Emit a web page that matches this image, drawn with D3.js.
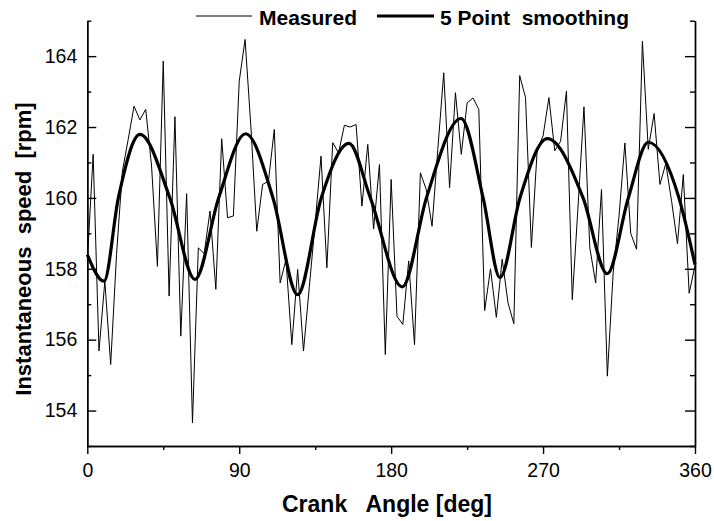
<!DOCTYPE html>
<html>
<head>
<meta charset="utf-8">
<script src="https://cdn.jsdelivr.net/npm/d3@7"></script>
<style>
  body { margin: 0; background: #fff; }
  svg text { font-family: "Liberation Sans", Arial, sans-serif; }
</style>
</head>
<body>
<svg id="chart" width="714" height="521"></svg>
<script>
// measured speed, one sample every 360/104 deg
var measured = [158.2, 161.23, 155.68, 157.65, 155.30, 158.4, 160.75, 161.65, 162.59, 162.20,
  162.50, 160.9, 158.07, 163.86, 157.23, 162.29, 156.1, 160.12, 153.65, 158.59,
  158.43, 159.63, 157.42, 161.67, 159.44, 159.49, 163.29, 164.47, 162.0, 159.06,
  160.38, 160.47, 161.93, 157.6, 158.26, 155.86, 157.98, 155.68, 157.5, 159.3,
  161.18, 158.03, 161.56, 161.27, 162.05, 162.0, 162.07, 159.77, 161.51, 159.12,
  160.94, 155.58, 160.52, 156.66, 156.43, 158.22, 155.86, 160.71, 160.24, 159.2,
  161.4, 163.53, 160.29, 162.97, 161.23, 162.68, 162.82, 162.5, 156.82, 158.0,
  156.63, 158.27, 157.04, 156.45, 163.45, 162.83, 158.6, 161.37, 161.75, 162.83,
  161.33, 161.6, 163.01, 157.13, 159.8, 162.57, 158.59, 157.6, 160.24, 154.97,
  157.9, 159.49, 161.55, 159.0, 158.55, 164.42, 161.37, 162.38, 160.38, 160.97,
  159.9, 158.71, 160.66, 157.31, 158.1];
var measuredAngle = measured.map(function(d, i) { return i * 360 / (measured.length - 1); });

// 5 point smoothing curve, read at its turning points and 160 rpm crossings
var smoothAngle = [0, 9.9, 18.4, 31.2, 48.9, 63.8, 77.8, 93.8, 110, 124.6, 138.6, 155, 167.7,
  186.6, 200.9, 221.4, 234.5, 244.5, 256.3, 272.5, 293.7, 308, 320.5, 332.3, 350.5, 360];
var smoothValue = [158.40, 157.65, 160.0, 161.79, 160.0, 157.70, 160.0, 161.81, 160.0, 157.27,
  160.0, 161.54, 160.0, 157.49, 160.0, 162.24, 160.0, 157.75, 160.0, 161.67, 160.0, 157.86,
  160.0, 161.57, 160.0, 158.12];

var xTicks = [0, 90, 180, 270, 360];
var xMinor = [45, 135, 225, 315];
var yTicks = [154, 156, 158, 160, 162, 164];
var yMinor = [153, 155, 157, 159, 161, 163, 165];

var seriesNames = ["Measured", "5 Point  smoothing"];

var svg = d3.select("#chart");

var x = d3.scaleLinear().domain([0, 360]).range([87.3, 695]);
var y = d3.scaleLinear().domain([153, 165]).range([446, 20.7]);

function styleAxis(g) {
  g.selectAll("path, line").attr("stroke", "#000").attr("stroke-width", 1.4);
  g.selectAll("text").attr("fill", "#000").style("font-size", "19.5px");
}

// bottom axis (ticks outward)
svg.append("g")
  .attr("transform", "translate(0,446)")
  .call(d3.axisBottom(x).tickValues(xTicks).tickSize(8).tickSizeOuter(0).tickPadding(9.5))
  .call(styleAxis);
svg.append("g")
  .attr("transform", "translate(0,446)")
  .call(d3.axisBottom(x).tickValues(xMinor).tickSize(4).tickSizeOuter(0).tickFormat(""))
  .call(styleAxis);

// left axis (ticks inward)
svg.append("g")
  .attr("transform", "translate(87.3,0)")
  .call(d3.axisLeft(y).tickValues(yTicks).tickSize(-9).tickSizeOuter(0).tickPadding(10))
  .call(styleAxis);
svg.append("g")
  .attr("transform", "translate(87.3,0)")
  .call(d3.axisLeft(y).tickValues(yMinor).tickSize(-4).tickSizeOuter(0).tickFormat(""))
  .call(styleAxis);

// right axis (ticks inward, no labels)
svg.append("g")
  .attr("transform", "translate(695,0)")
  .call(d3.axisRight(y).tickValues(yTicks).tickSize(-10).tickSizeOuter(0).tickFormat(""))
  .call(styleAxis);
svg.append("g")
  .attr("transform", "translate(695,0)")
  .call(d3.axisRight(y).tickValues(yMinor).tickSize(-5).tickSizeOuter(0).tickFormat(""))
  .call(styleAxis);

// measured line
svg.append("path")
  .datum(measured)
  .attr("fill", "none")
  .attr("stroke", "#000")
  .attr("stroke-width", 1)
  .attr("d", d3.line()
    .x(function(d, i) { return x(measuredAngle[i]); })
    .y(function(d) { return y(d); }));

// smoothed line
svg.append("path")
  .datum(smoothValue)
  .attr("fill", "none")
  .attr("stroke", "#000")
  .attr("stroke-width", 3.2)
  .attr("stroke-linejoin", "round")
  .attr("d", d3.line()
    .curve(d3.curveMonotoneX)
    .x(function(d, i) { return x(smoothAngle[i]); })
    .y(function(d) { return y(d); }));

// legend
var legend = [
  {name: seriesNames[0], x1: 196, x2: 252, tx: 259, w: 1},
  {name: seriesNames[1], x1: 377, x2: 434, tx: 440, w: 3.2}
];
legend.forEach(function(l) {
  svg.append("line")
    .attr("x1", l.x1).attr("x2", l.x2)
    .attr("y1", 16).attr("y2", 16)
    .attr("stroke", "#000").attr("stroke-width", l.w);
  svg.append("text")
    .attr("x", l.tx).attr("y", 24.5)
    .style("font-size", "21px")
    .style("font-weight", "bold")
    .style("white-space", "pre")
    .text(l.name);
});

// axis titles
svg.append("text")
  .attr("x", 387).attr("y", 512)
  .attr("text-anchor", "middle")
  .style("font-size", "23px")
  .style("font-weight", "bold")
  .style("white-space", "pre")
  .text("Crank   Angle [deg]");

svg.append("text")
  .attr("transform", "translate(31,249) rotate(-90)")
  .attr("text-anchor", "middle")
  .style("font-size", "22px")
  .style("font-weight", "bold")
  .style("white-space", "pre")
  .text("Instantaneous  speed  [rpm]");
</script>
</body>
</html>
